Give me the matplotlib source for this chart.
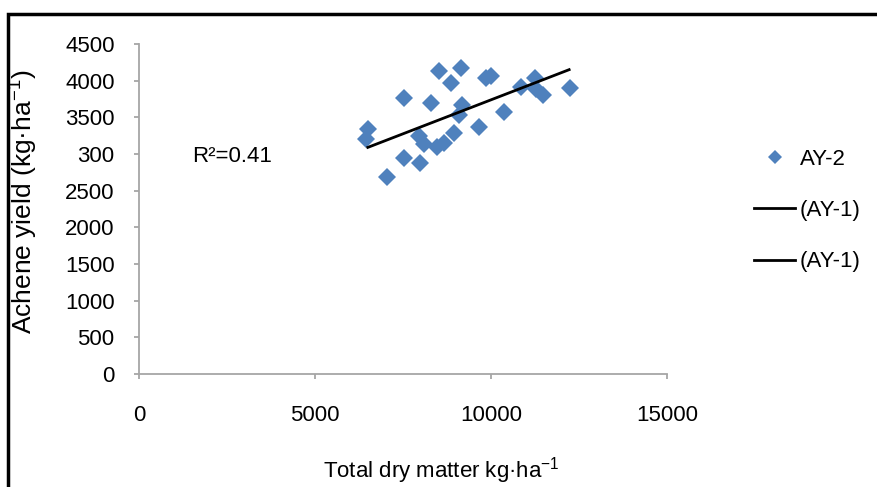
import matplotlib
matplotlib.use("Agg")
import matplotlib.pyplot as plt
from matplotlib.lines import Line2D
from matplotlib.patches import Rectangle

plt.rcParams['font.family'] = ['Liberation Sans', 'DejaVu Sans']
plt.rcParams['mathtext.fontset'] = 'custom'
plt.rcParams['mathtext.rm'] = 'Liberation Sans'
plt.rcParams['mathtext.default'] = 'regular'

# Data
dry_matter = [6510, 6460, 7040, 7530, 7530, 7990, 7960, 8100, 8290, 8530, 8480,
              8670, 8860, 8960, 9150, 9190, 9100, 9650, 9860, 10000, 10380,
              10860, 11240, 11290, 11480, 12240]
achene_yield = [3340, 3210, 2690, 2950, 3770, 2880, 3240, 3130, 3690, 4130, 3100,
                3150, 3970, 3280, 4170, 3670, 3530, 3370, 4030, 4070, 3570,
                3920, 4030, 3880, 3800, 3900]
trend_x = [6500, 12220]
trend_y = [3090, 4150]

x_ticks = [0, 5000, 10000, 15000]
x_tick_labels = ['0', '5000', '10000', '15000']
y_ticks = [0, 500, 1000, 1500, 2000, 2500, 3000, 3500, 4000, 4500]
y_tick_labels = ['0', '500', '1000', '1500', '2000', '2500', '300', '3500', '4000', '4500']
series_labels = ['AY-2', '(AY-1)', '(AY-1)']
r2_text = 'R\u00b2=0.41'
x_title = 'Total dry matter kg\u00b7ha$^{-1}$'
y_title = 'Achene yield (kg\u00b7ha$^{-1}$)'

W, H = 877, 487
fig = plt.figure(figsize=(W / 100, H / 100), dpi=100)
ax = fig.add_axes([139 / W, 1 - 374 / H, (667 - 139) / W, (374 - 44) / H])

blue = '#4f81bd'
axis_grey = '#a6a6a6'
fs = 16

ax.plot(dry_matter, achene_yield, linestyle='none', marker='D', markersize=9.5,
        color=blue, markeredgewidth=0, zorder=2)
ax.plot(trend_x, trend_y, color='black', linewidth=2.0, zorder=3)

ax.set_xlim(0, 15000)
ax.set_ylim(0, 4500)
ax.set_xticks(x_ticks)
ax.set_xticklabels(x_tick_labels, fontsize=fs)
ax.set_yticks(y_ticks)
ax.set_yticklabels(y_tick_labels, fontsize=fs)

for s in ['top', 'right']:
    ax.spines[s].set_visible(False)
for s in ['left', 'bottom']:
    ax.spines[s].set_color(axis_grey)
    ax.spines[s].set_linewidth(1.3)
ax.tick_params(axis='y', direction='out', length=3.6, width=1.3, color=axis_grey, pad=14)
ax.tick_params(axis='x', direction='out', length=3.6, width=1.3, color=axis_grey, pad=18.5)

fig.text(441 / W, 1 - 477 / H, x_title, fontsize=fs, ha='center', va='baseline')
fig.text(24 / W, 1 - 202 / H, y_title, fontsize=19, ha='center', va='center',
         rotation=90)

ax.text(1520, 2960, r2_text, fontsize=fs, va='center', ha='left')

handles = [
    Line2D([], [], linestyle='none', marker='D', markersize=7.2, color=blue, markeredgewidth=0),
    Line2D([], [], color='black', linewidth=2.0),
    Line2D([], [], color='black', linewidth=2.0),
]
fig.legend(handles, series_labels, loc='upper left', bbox_to_anchor=(754 / W, 1 - 149 / H),
           frameon=False, fontsize=fs, labelspacing=1.36, handlelength=1.85,
           handletextpad=0.2, borderpad=0, borderaxespad=0)

fig.add_artist(Rectangle((8 / W, -0.1), 1.2, 1 - 14 / H + 0.1, transform=fig.transFigure,
                         fill=False, edgecolor='black', linewidth=2.5, clip_on=False))

fig.savefig('out.png', dpi=100)
